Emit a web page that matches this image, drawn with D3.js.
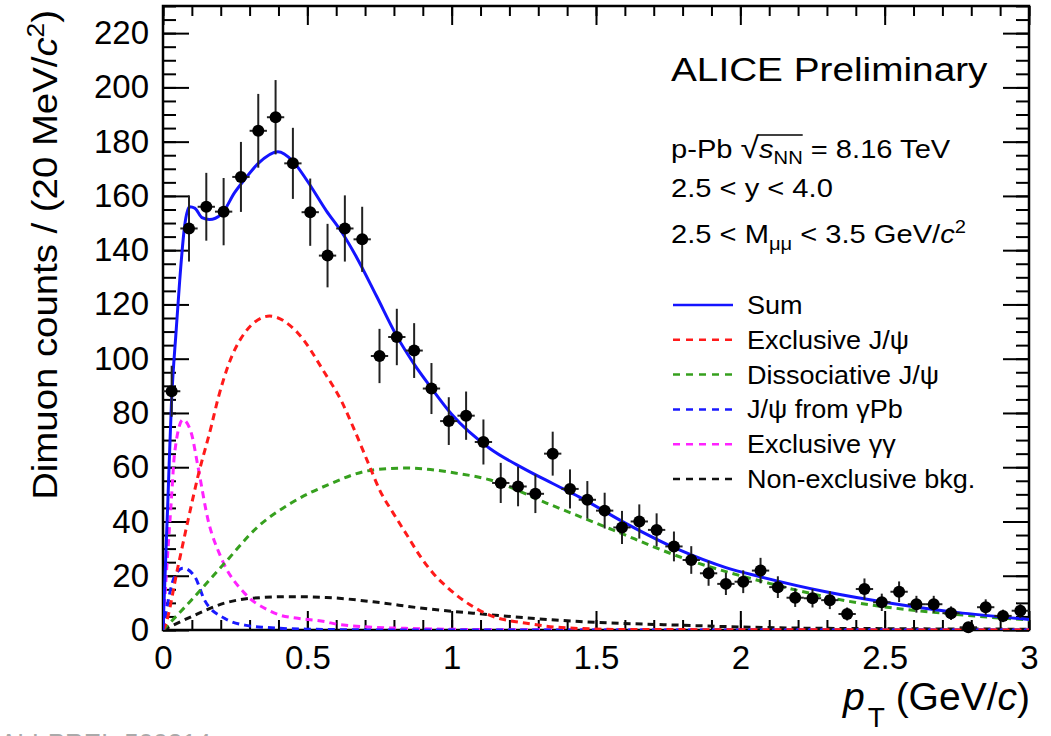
<!DOCTYPE html>
<html>
<head>
<meta charset="utf-8">
<script src="https://cdn.jsdelivr.net/npm/d3@7/dist/d3.min.js"></script>
<style>
body { margin: 0; background: #fff; }
svg { display: block; font-family: "Liberation Sans", Arial, Helvetica, sans-serif; }
</style>
</head>
<body>
<div id="chart"></div>
<script>
// data points, 60 MeV wide pT bins
var binCenters = [0.03, 0.09, 0.15, 0.21, 0.27, 0.33, 0.39, 0.45, 0.51, 0.57,
    0.63, 0.69, 0.75, 0.81, 0.87, 0.93, 0.99, 1.05, 1.11, 1.17,
    1.23, 1.29, 1.35, 1.41, 1.47, 1.53, 1.59, 1.65, 1.71, 1.77,
    1.83, 1.89, 1.95, 2.01, 2.07, 2.13, 2.19, 2.25, 2.31, 2.37,
    2.43, 2.49, 2.55, 2.61, 2.67, 2.73, 2.79, 2.85, 2.91, 2.97];
var counts = [88, 148, 156, 154.2, 167, 184, 189, 172, 154, 138,
    148, 144, 101, 108, 103, 89, 77, 79, 69.3, 54.2,
    52.9, 50.2, 65, 52, 48, 44, 37.8, 40, 36.9, 30.8,
    25.8, 20.9, 17, 17.8, 21.9, 15.8, 11.9, 11.7, 11, 5.9,
    15.1, 10.2, 14.1, 9.5, 9.5, 6.2, 1, 8.4, 5.2, 7.1];
var countErrors = [9.4, 12.2, 12.5, 12.4, 12.9, 13.6, 13.7, 13.1, 12.4, 11.7,
    12.2, 12, 10, 10.4, 10.1, 9.4, 8.8, 8.9, 8.3, 7.4,
    7.3, 7.1, 8.1, 7.2, 6.9, 6.6, 6.1, 6.3, 6.1, 5.5,
    5.1, 4.6, 4.1, 4.2, 4.7, 4, 3.4, 3.4, 3.3, 2.4,
    3.9, 3.2, 3.8, 3.1, 3.1, 2.5, 1, 2.9, 2.3, 2.7];
var binHalfWidth = 0.03;

// fit curves, [pT, counts]
var sumCurve = [[0, 0], [0.006, 17], [0.017, 48], [0.029, 83], [0.046, 111], [0.058, 129],
    [0.075, 149], [0.092, 156], [0.11, 155.5], [0.135, 152], [0.161, 151.3], [0.202, 153.2],
    [0.248, 161.2], [0.283, 166.1], [0.33, 172], [0.398, 176.3], [0.45, 172.8], [0.5, 165.5],
    [0.566, 154.5], [0.62, 146.5], [0.67, 137.5], [0.74, 123], [0.809, 108.5], [0.87, 98],
    [0.924, 90], [1.0, 79.5], [1.131, 67], [1.25, 59.5], [1.35, 54], [1.443, 49],
    [1.6, 39.5], [1.789, 29.5], [1.95, 23], [2.066, 19.7], [2.3, 14], [2.527, 9.8],
    [2.75, 6.5], [3.0, 3.9]];
var exclJpsiCurve = [[0, 0], [0.006, 1.2], [0.052, 23.4], [0.087, 40.6], [0.121, 56.6], [0.167, 75],
    [0.19, 85], [0.225, 97.2], [0.283, 109.5], [0.369, 115.7], [0.467, 109.5], [0.56, 94.8],
    [0.62, 84], [0.66, 74.5], [0.717, 60], [0.751, 51.5], [0.798, 43], [0.845, 35],
    [0.889, 27.5], [0.935, 21], [0.982, 16], [1.074, 8.6], [1.131, 5.5], [1.27, 2.3],
    [1.38, 0.9], [1.6, 0.2], [3.0, 0]];
var dissJpsiCurve = [[0, 0], [0.011, 1.2], [0.098, 11], [0.213, 24.6], [0.329, 38.1], [0.444, 46.8],
    [0.571, 53.5], [0.728, 59], [0.843, 59.7], [1.016, 57.8], [1.131, 55.4], [1.328, 46.8],
    [1.558, 36.9], [1.789, 27], [2.1, 17.2], [2.412, 9.9], [2.7, 6.2], [3.0, 3.7]];
var gammaPbCurve = [[0, 0], [0.006, 3.7], [0.04, 19.7], [0.069, 22.8], [0.11, 19.7], [0.144, 11],
    [0.213, 4.3], [0.283, 1.8], [0.363, 0.9], [0.5, 0.3], [0.8, 0], [3.0, 0]];
var gammaGammaCurve = [[0, 0], [0.006, 11], [0.029, 48], [0.04, 65], [0.069, 77.5], [0.098, 72.6],
    [0.121, 60.3], [0.156, 40.6], [0.2, 27], [0.283, 13.5], [0.363, 7.4], [0.405, 5.5],
    [0.467, 4.3], [0.56, 3.1], [0.61, 2], [0.84, 0.6], [1.2, 0.1], [3.0, 0]];
var bkgCurve = [[0, 0], [0.035, 1.8], [0.098, 4.9], [0.213, 9.9], [0.306, 11.7], [0.444, 12.3],
    [0.566, 12], [0.728, 10.4], [0.9, 8], [1.074, 6.2], [1.443, 3.1], [1.789, 1.8],
    [2.135, 0.8], [2.5, 0.5], [3.0, 0.3]];

var xTicks = [0, 0.5, 1, 1.5, 2, 2.5, 3];
var yTicks = [0, 20, 40, 60, 80, 100, 120, 140, 160, 180, 200, 220];
var legendLabels = ["Sum", "Exclusive J/\u03c8", "Dissociative J/\u03c8",
    "J/\u03c8 from \u03b3Pb", "Exclusive \u03b3\u03b3", "Non-exclusive bkg."];

var curves = [sumCurve, exclJpsiCurve, dissJpsiCurve, gammaPbCurve, gammaGammaCurve, bkgCurve];
var curveColors = ["#1414ff", "#ff1a1a", "#36a01e", "#1a1aff", "#ff22ff", "#111"];

var width = 1051, height = 736;
var plot = {left: 163, right: 1029, top: 6, bottom: 630};

var x = d3.scaleLinear().domain([0, 3]).range([plot.left, plot.right]);
var y = d3.scaleLinear().domain([0, 230]).range([plot.bottom, plot.top]);

var svg = d3.select("#chart").append("svg")
    .attr("width", width)
    .attr("height", height);
svg.append("rect").attr("width", width).attr("height", height).attr("fill", "#fff");

svg.append("clipPath").attr("id", "plotclip")
    .append("rect")
    .attr("x", plot.left).attr("y", plot.top)
    .attr("width", plot.right - plot.left)
    .attr("height", plot.bottom - plot.top);

// ticks on all four sides, pointing inward
function tickAxis(axisFn, scale, values, size, tx, ty, fmt, pad) {
    var a = axisFn(scale).tickValues(values).tickSize(-size).tickPadding(pad || 0)
        .tickFormat(fmt || "");
    var g = svg.append("g")
        .attr("transform", "translate(" + tx + "," + ty + ")")
        .call(a);
    g.select(".domain").remove();
    g.selectAll("line").attr("stroke", "#000").attr("stroke-width", 2);
    return g;
}
var xMinor = x.ticks(30), yMinor = y.ticks(46);
tickAxis(d3.axisBottom, x, xMinor, 10, 0, plot.bottom);
tickAxis(d3.axisTop, x, xMinor, 10, 0, plot.top);
tickAxis(d3.axisLeft, y, yMinor, 13, plot.left, 0);
tickAxis(d3.axisRight, y, yMinor, 13, plot.right, 0);
tickAxis(d3.axisTop, x, xTicks, 19, 0, plot.top);
tickAxis(d3.axisRight, y, yTicks, 26, plot.right, 0);
var xAx = tickAxis(d3.axisBottom, x, xTicks, 19, 0, plot.bottom, function(d) { return String(d); }, 16);
var yAx = tickAxis(d3.axisLeft, y, yTicks, 26, plot.left, 0, function(d) { return String(d); }, 14);
[xAx, yAx].forEach(function(g) {
    g.attr("font-size", 33).attr("font-family", null);
    g.selectAll("text").attr("fill", "#000");
});

svg.append("rect")
    .attr("x", plot.left).attr("y", plot.top)
    .attr("width", plot.right - plot.left)
    .attr("height", plot.bottom - plot.top)
    .attr("fill", "none").attr("stroke", "#000").attr("stroke-width", 2.5);

// curves
var line = d3.line()
    .x(function(d) { return x(d[0]); })
    .y(function(d) { return y(d[1]); })
    .curve(d3.curveMonotoneX);
var curveG = svg.append("g").attr("clip-path", "url(#plotclip)");
// draw components first, sum on top
[5, 4, 3, 2, 1, 0].forEach(function(i) {
    curveG.append("path")
        .attr("d", line(curves[i]))
        .attr("fill", "none")
        .attr("stroke", curveColors[i])
        .attr("stroke-width", 3)
        .attr("stroke-dasharray", i === 0 ? null : "7,5");
});

// data points with error bars
var pts = svg.append("g").selectAll(".pt")
    .data(binCenters.map(function(c, i) { return {x: c, y: counts[i], e: countErrors[i]}; }))
    .enter().append("g").attr("class", "pt");
pts.append("line")
    .attr("x1", function(d) { return x(d.x); })
    .attr("x2", function(d) { return x(d.x); })
    .attr("y1", function(d) { return y(Math.max(0, d.y - d.e)); })
    .attr("y2", function(d) { return y(d.y + d.e); })
    .attr("stroke", "#222").attr("stroke-width", 2);
pts.append("line")
    .attr("x1", function(d) { return x(d.x - binHalfWidth); })
    .attr("x2", function(d) { return x(d.x + binHalfWidth); })
    .attr("y1", function(d) { return y(d.y); })
    .attr("y2", function(d) { return y(d.y); })
    .attr("stroke", "#222").attr("stroke-width", 2);
pts.append("circle")
    .attr("cx", function(d) { return x(d.x); })
    .attr("cy", function(d) { return y(d.y); })
    .attr("r", 6)
    .attr("fill", "#000");

// axis titles
var yTitle = svg.append("text")
    .attr("font-size", 35)
    .attr("text-anchor", "end");
yTitle.append("tspan").text("Dimuon counts / (20 MeV/");
yTitle.append("tspan").attr("font-style", "italic").text("c");
yTitle.append("tspan").attr("font-size", 24).attr("dy", -13).text("2");
yTitle.append("tspan").attr("dy", 13).text(")");
var yLen = yTitle.node().getComputedTextLength();
yTitle.attr("transform", "translate(57,10) rotate(-90) scale(" + (490 / yLen) + ",1)");

var xTitle = svg.append("text")
    .attr("font-size", 39)
    .attr("text-anchor", "end")
    .attr("x", 1030).attr("y", 710);
xTitle.append("tspan").attr("font-style", "italic").text("p");
xTitle.append("tspan").attr("font-size", 28).attr("dx", 3).attr("dy", 17).text("T");
xTitle.append("tspan").attr("dy", -17).text(" (GeV/");
xTitle.append("tspan").attr("font-style", "italic").text("c");
xTitle.append("tspan").text(")");

// label block, slightly stretched like the original canvas
function label(xp, yp, size, sx) {
    return svg.append("g")
        .attr("transform", "translate(" + xp + "," + yp + ") scale(" + sx + ",1)")
        .append("text").attr("font-size", size);
}
label(671, 81, 34, 1.14).text("ALICE Preliminary");

var t1 = label(671, 158, 26, 1.12);
t1.append("tspan").text("p-Pb ");
t1.append("tspan").attr("font-size", 30).text("\u221a");
t1.append("tspan").attr("font-style", "italic").text("s");
t1.append("tspan").attr("font-size", 18).attr("dy", 6).text("NN");
t1.append("tspan").attr("dy", -6).text(" = 8.16 TeV");
// bar over s_NN
var tn = t1.node();
var ext1 = tn.getExtentOfChar(8), extR = tn.getExtentOfChar(5);
d3.select(tn.parentNode).append("line")
    .attr("x1", extR.x + extR.width - 1).attr("x2", ext1.x + ext1.width)
    .attr("y1", -23).attr("y2", -23)
    .attr("stroke", "#000").attr("stroke-width", 1.6);

label(671, 197, 26, 1.12).text("2.5 < y < 4.0");

var t3 = label(671, 243, 26, 1.12);
t3.append("tspan").text("2.5 < M");
t3.append("tspan").attr("font-size", 18).attr("dy", 7).text("\u03bc\u03bc");
t3.append("tspan").attr("dy", -7).text(" < 3.5 GeV/");
t3.append("tspan").attr("font-style", "italic").text("c");
t3.append("tspan").attr("font-size", 18).attr("dy", -10).text("2");

// legend
var legend = svg.append("g").selectAll(".leg")
    .data(legendLabels)
    .enter().append("g").attr("class", "leg")
    .attr("transform", function(d, i) { return "translate(0," + (305 + i * 34.8) + ")"; });
legend.append("line")
    .attr("x1", 673).attr("x2", 733)
    .attr("stroke", function(d, i) { return curveColors[i]; })
    .attr("stroke-width", 2.5)
    .attr("stroke-dasharray", function(d, i) { return i === 0 ? null : "7,6"; });
legend.append("g")
    .attr("transform", "translate(747,9) scale(1.06,1)")
    .append("text")
    .attr("font-size", 25.5)
    .text(function(d) { return d; });

// preliminary figure id, cut at the bottom edge as in the original
svg.append("text")
    .attr("x", 0).attr("y", 752)
    .attr("font-size", 26)
    .attr("fill", "#aaa")
    .text("ALI-PREL-500214");
</script>
</body>
</html>
